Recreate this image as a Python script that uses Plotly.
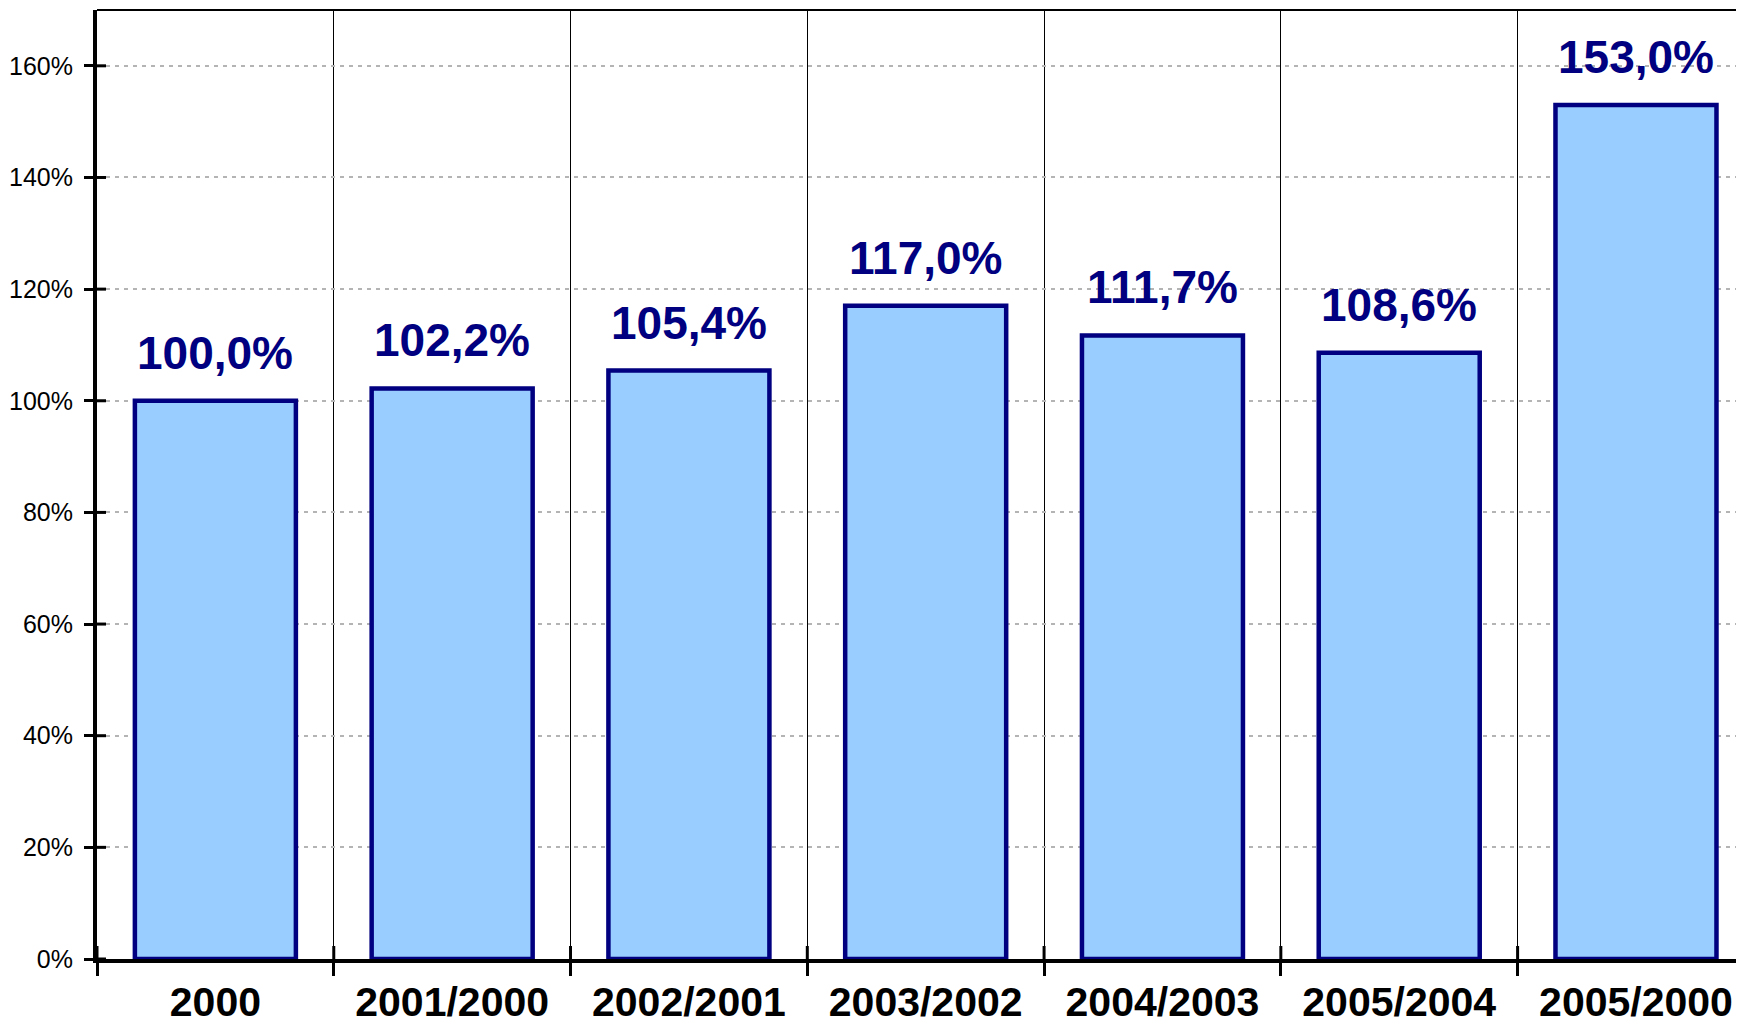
import plotly.graph_objects as go

categories = ["2000", "2001/2000", "2002/2001", "2003/2002", "2004/2003", "2005/2004", "2005/2000"]
values = [100.0, 102.2, 105.4, 117.0, 111.7, 108.6, 153.0]
labels = ["100,0%", "102,2%", "105,4%", "117,0%", "111,7%", "108,6%", "153,0%"]
y_ticks = [0, 20, 40, 60, 80, 100, 120, 140, 160]
y_tick_text = ["0%", "20%", "40%", "60%", "80%", "100%", "120%", "140%", "160%"]

FONT = "Liberation Sans, Arial, sans-serif"
NAVY = "#000080"

fig = go.Figure()
fig.add_trace(go.Bar(
    x=categories, y=values, width=0.68,
    marker=dict(color="#99CCFF", line=dict(color=NAVY, width=4.5)),
    hoverinfo="skip",
))

for i, (v, t) in enumerate(zip(values, labels)):
    fig.add_annotation(x=i, y=v, text="<b>%s</b>" % t, showarrow=False,
                       yanchor="bottom", yshift=20,
                       font=dict(family=FONT, size=46, color=NAVY))

shapes = []
for yt in y_ticks:
    shapes.append(dict(type="line", xref="paper", yref="y", xsizemode="pixel", xanchor=0,
                       x0=0, x1=9, y0=yt, y1=yt, line=dict(color="black", width=3)))
for k in range(len(categories) + 1):
    shapes.append(dict(type="line", xref="x", yref="y", ysizemode="pixel", yanchor=0,
                       x0=k - 0.5, x1=k - 0.5, y0=0, y1=13, line=dict(color="black", width=3)))
shapes.append(dict(type="line", xref="paper", yref="paper", x0=0, x1=1, y0=1, y1=1,
                   line=dict(color="black", width=2)))

xr = [-0.5, 6.49]
yr = [0, 170]

fig.update_layout(
    width=1744, height=1025,
    margin=dict(l=89, r=0, t=2, b=74),
    paper_bgcolor="white", plot_bgcolor="white",
    showlegend=False,
    shapes=shapes,
)
fig.update_xaxes(
    type="category", range=xr, tickson="boundaries",
    showgrid=True, gridcolor="#000000", gridwidth=1.3,
    showline=True, linecolor="black", linewidth=3.5,
    ticks="outside", ticklen=13, tickwidth=3, tickcolor="black",
    tickfont=dict(family=FONT, size=41, color="black", weight="bold"),
    ticklabelstandoff=4,
    zeroline=False,
)
fig.update_yaxes(
    range=yr, tickmode="array", tickvals=y_ticks, ticktext=y_tick_text,
    showgrid=True, gridcolor="#b4b4b4", gridwidth=1.5, griddash="4px,5px",
    showline=True, linecolor="black", linewidth=4,
    ticks="outside", ticklen=9, tickwidth=3, tickcolor="black",
    tickfont=dict(family=FONT, size=25, color="black"),
    ticklabelstandoff=6,
    zeroline=False,
)

fig.write_html("out.html")
